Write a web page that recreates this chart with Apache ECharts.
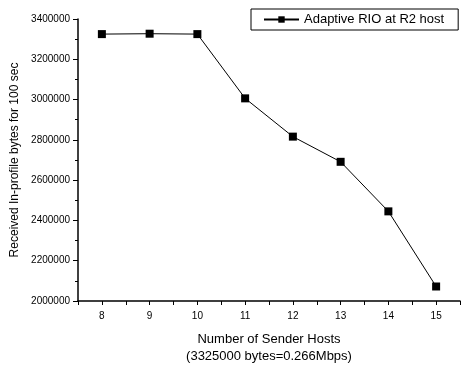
<!DOCTYPE html>
<html>
<head>
<meta charset="utf-8">
<script src="https://cdn.jsdelivr.net/npm/echarts@6/dist/echarts.min.js"></script>
<style>html,body{margin:0;padding:0;background:#fff}#c{width:461px;height:367px}</style>
</head>
<body>
<div id="c"></div>
<script>
var hosts = [8, 9, 10, 11, 12, 13, 14, 15];
var bytes = [3325000, 3327000, 3325000, 3006000, 2816000, 2691000, 2445000, 2072000];
var seriesName = 'Adaptive RIO at R2 host';
var xTitle = 'Number of Sender Hosts\n(3325000 bytes=0.266Mbps)';
var yTitle = 'Received In-profile bytes for 100 sec';

var chart = echarts.init(document.getElementById('c'), null, {renderer: 'canvas'});
var font = 'Liberation Sans, Arial, sans-serif';
chart.setOption({
  animation: false,
  backgroundColor: '#fff',
  textStyle: {fontFamily: font, color: '#000'},
  grid: {left: 78, right: 1, top: 19, bottom: 66, outerBoundsMode: 'none', containLabel: false},
  legend: {
    left: 251, top: 9, width: 209,
    padding: [4, 14, 4, 12],
    borderColor: '#000', borderWidth: 1,
    itemWidth: 35, itemHeight: 8,
    textStyle: {fontSize: 13, color: '#000', fontFamily: font},
    data: [seriesName]
  },
  xAxis: {
    type: 'value', min: 7.5, max: 15.5, interval: 0.5,
    name: xTitle, nameLocation: 'middle', nameGap: 30, nameMoveOverlap: false,
    nameTextStyle: {fontSize: 13, lineHeight: 17, color: '#000', fontFamily: font},
    axisLine: {lineStyle: {color: '#000', width: 1.5}},
    axisTick: {show: true, inside: false, length: 4, lineStyle: {color: '#000'}},
    axisLabel: {fontSize: 10, color: '#000', margin: 10,
      formatter: function (v) { return Number.isInteger(v) ? String(v) : ''; }},
    splitLine: {show: false}
  },
  yAxis: {
    type: 'value', min: 2000000, max: 3400000, interval: 200000,
    name: yTitle, nameLocation: 'middle', nameGap: 57, nameMoveOverlap: false,
    nameTextStyle: {fontSize: 12, color: '#000', fontFamily: font},
    axisLine: {show: true, lineStyle: {color: '#000', width: 1.5}},
    axisTick: {show: true, length: 5, lineStyle: {color: '#000'}},
    minorTick: {show: true, splitNumber: 2, length: 3, lineStyle: {color: '#000'}},
    axisLabel: {fontSize: 10, color: '#000', margin: 8,
      formatter: function (v) { return String(v); }},
    splitLine: {show: false}
  },
  series: [{
    name: seriesName, type: 'line',
    data: hosts.map(function (h, i) { return [h, bytes[i]]; }),
    symbol: 'rect', symbolSize: 8,
    lineStyle: {color: '#000', width: 1},
    itemStyle: {color: '#000'}
  }]
});
</script>
</body>
</html>
